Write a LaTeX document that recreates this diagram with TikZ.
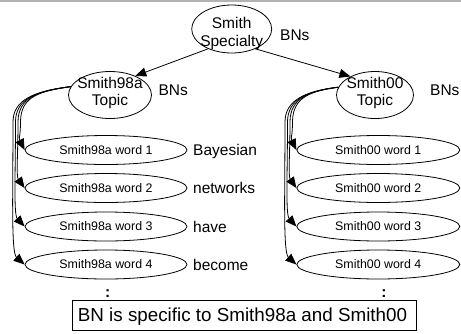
\documentclass[tikz,border=0pt]{standalone}
\usepackage{fontspec}
\setmainfont{Liberation Sans}
\usetikzlibrary{arrows.meta,shapes.geometric}
\begin{document}
\begin{tikzpicture}[x=1pt,y=-1pt,
  ell/.style={draw,ellipse,line width=0.8pt,inner sep=0pt},
  big/.style={font=\fontsize{15.5}{18}\selectfont,inner sep=0pt,anchor=base},
  small/.style={font=\fontsize{12.4}{14}\selectfont},
  boxtxt/.style={font=\fontsize{18.8}{22}\selectfont,inner sep=0pt,anchor=base},
  arr/.style={-{Triangle[length=11pt,width=9pt]},line width=0.8pt},
  carr/.style={-{Triangle[length=11pt,width=9pt]},line width=0.8pt},
]
\useasboundingbox (0,0) rectangle (461,333);
\draw[gray!60,line width=1.5pt] (0,0.75) -- (461,0.75);

% top
\node[ell,minimum width=80pt,minimum height=48pt] (spec) at (231.7,29) {};
\node[big] (specT1) at (231.7,28.3) {Smith};
\node[big] (specT2) at (231.7,46.7) {Specialty};
\node[big,anchor=base west] (bns1) at (280,40) {BNs};

\node[ell,minimum width=83pt,minimum height=47pt] (ta) at (110,95) {};
\node[big] (taT1) at (110,88.3) {Smith98a};
\node[big] (taT2) at (110,105) {Topic};
\node[big,anchor=base west] (bns2) at (158.3,95) {BNs};

\node[ell,minimum width=77pt,minimum height=47pt] (tb) at (375,95) {};
\node[big] (tbT1) at (375,88.3) {Smith00};
\node[big] (tbT2) at (375,105) {Topic};
\node[big,anchor=base west] (bns3) at (430,95) {BNs};

\draw[arr] (spec.220) -- (ta.37);
\draw[arr] (spec.-40) -- (tb.143);

% words
\foreach \k/\y/\w in {1/150/Bayesian,2/188/networks,3/226.5/have,4/264.5/become}{
  \node[ell,small,minimum width=162pt,minimum height=29pt] (wa\k) at (106,\y) {Smith98a word \k};
  \node[ell,small,minimum width=163pt,minimum height=29pt] (wb\k) at (378.3,\y) {Smith00 word \k};
  \node[big,anchor=base west] (lab\k) at (193,\y+5.5) {\w};
}

% curved connectors
\foreach \s/\t/\dx in {a/ta/0,b/tb/272}{
  \foreach \k/\b/\y in {1/20.5/150,2/18/188,3/15.5/226.5,4/13/264.5}{
    \draw[carr] (\t.168) .. controls (\dx+\b+20,91) and (\dx+\b,{96+(20.5-\b)*0.6}) .. (\dx+\b,122)
      .. controls (\dx+\b,\y*0.5+61) and (\dx+\b-2,\y-12) .. (w\s\k.west);
  }
}

\node[big] (dotsA) at (107.7,297.5) {\textbf{:}};
\node[big] (dotsB) at (384,297.5) {\textbf{:}};

\node[draw,line width=0.8pt,minimum width=344pt,minimum height=29.3pt,inner sep=0pt] (box) at (244.7,315.3) {};
\node[boxtxt] (boxT) at (242.5,321.7) {BN is specific to Smith98a and Smith00};
\end{tikzpicture}
\end{document}
